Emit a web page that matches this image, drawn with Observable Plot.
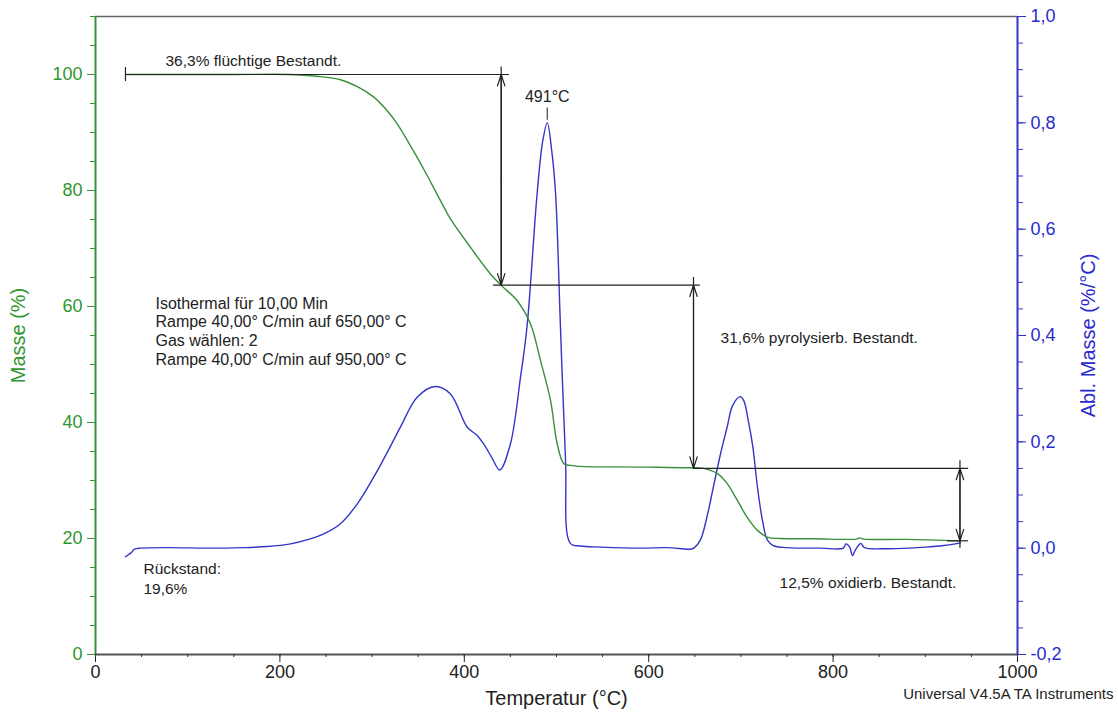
<!DOCTYPE html>
<html>
<head>
<meta charset="utf-8">
<script src="https://cdn.jsdelivr.net/npm/d3@7"></script>
<script src="https://cdn.jsdelivr.net/npm/@observablehq/plot@0.6"></script>
<style>
  html, body { margin: 0; padding: 0; background: #fff; }
  #chart svg { display: block; }
</style>
</head>
<body>
<div id="chart"></div>
<script>
// Mass (TGA) curve: temperature (°C) and mass (%)
const massT = [32.5, 100, 150, 211.5, 240, 265.7, 284, 301.9, 315, 327.2, 348.9, 358, 367, 376, 385, 406.7, 428.4, 440.3, 457.4, 471.8, 482.6, 493.5, 500.8, 508, 515.2, 530, 560, 600, 645, 659, 674.6, 685, 696, 707, 718, 729, 743, 780, 825, 829, 833, 880, 938];
const massL = [100, 100, 100, 100, 99.7, 99.1, 97.9, 96.1, 94.0, 91.5, 85.7, 83.1, 80.4, 77.7, 75.1, 70.2, 65.6, 63.6, 61, 57, 50.7, 43.8, 36.3, 32.9, 32.6, 32.4, 32.35, 32.3, 32.2, 32.1, 31.2, 29.5, 26.6, 23.6, 21.4, 20.2, 20.0, 19.95, 19.9, 20.1, 19.9, 19.85, 19.6];

// Derivative (DTG) curve: temperature (°C) and %/°C
const dtgT = [32.5, 36, 39, 42.3, 48.8, 80, 120, 160, 186, 211.5, 230, 247.6, 265.7, 283.8, 301.9, 320, 330.8, 348.9, 368.8, 385, 403, 414, 421, 430, 438.5, 450, 461, 468, 479, 485, 490, 495, 499, 504.3, 509.8, 515, 526, 548, 591, 620, 645, 649, 656, 664, 670, 678, 685, 691, 699, 703, 708, 713, 718, 723.4, 728.8, 735, 750, 787, 811, 814, 818, 821, 824, 827, 830, 834, 860, 900, 920, 938];
const dtgV = [-0.016, -0.012, -0.008, -0.002, 0, 0.001, 0, 0.001, 0.003, 0.008, 0.016, 0.027, 0.046, 0.083, 0.134, 0.192, 0.228, 0.284, 0.304, 0.290, 0.228, 0.212, 0.196, 0.170, 0.147, 0.196, 0.322, 0.416, 0.667, 0.765, 0.80, 0.745, 0.667, 0.416, 0.165, 0.009, 0.004, 0.002, 0.0, 0.001, -0.002, 0, 0.015, 0.065, 0.114, 0.178, 0.227, 0.268, 0.285, 0.278, 0.240, 0.19, 0.114, 0.052, 0.015, 0.005, 0.001, 0.0, 0.0, 0.008, 0.002, -0.014, -0.004, 0.004, 0.009, 0.001, -0.001, 0.002, 0.005, 0.010];

// Axis ticks
const xMajor = [0, 200, 400, 600, 800, 1000];
const xMinor = d3.range(0, 1001, 50);
const leftMajor = [0, 20, 40, 60, 80, 100];
const leftMinor = d3.range(0, 111, 5);
const rightMajor = [-0.2, 0, 0.2, 0.4, 0.6, 0.8, 1.0];
const rightMinor = d3.range(-0.2, 1.0001, 0.05);

// Step analysis annotations
const stepLevels = [100, 63.7, 32.1, 19.6];
const stepTemps = [440, 648.6, 937.6];
const hLineX1 = [32.5, 431.6, 648.6, 924];
const hLineX2 = [449, 656, 947, 947];
const stepLabels = ["36,3% flüchtige Bestandt.", "31,6% pyrolysierb. Bestandt.", "12,5% oxidierb. Bestandt."];
const stepLabelX = [75.9, 678, 742];
const stepLabelY = [102.4, 54.5, 12.4];
const methodText = "Isothermal für 10,00 Min\nRampe 40,00° C/min auf 650,00° C\nGas wählen: 2\nRampe 40,00° C/min auf 950,00° C";
const residueText = "Rückstand:\n19,6%";
const peakLabel = "491°C";

// Right axis (-0.2 .. 1.0) shares the left axis range (0 .. 110)
const yMax = 110, rMin = -0.2, rMax = 1.0;
const toL = v => (v - rMin) / (rMax - rMin) * yMax;
const fromL = L => Math.round((L / yMax * (rMax - rMin) + rMin) * 10) / 10;

const green = "#3a8f3a", greenText = "#2f962f";
const blue = "#3434c8", blueText = "#2a2ad0";
const ink = "#222";

const mass = massT.map((t, i) => ({t, m: massL[i]}));
const dtg = dtgT.map((t, i) => ({t, m: toL(dtgV[i])}));

const hLines = stepLevels.map((y, i) => ({y, x1: hLineX1[i], x2: hLineX2[i]}));
const dims = stepTemps.map((x, i) => ({x, top: stepLevels[i], bottom: stepLevels[i + 1]}));
const arrows = dims.flatMap(d => {
  const mid = (d.top + d.bottom) / 2;
  return [{x: d.x, y1: mid, y2: d.top}, {x: d.x, y1: mid, y2: d.bottom}];
});
const ext = 1.3;
const dimRules = dims.map((d, i) => ({x: d.x, y1: i === 2 ? d.bottom - ext : d.bottom, y2: d.top + ext}));
const labels = stepLabels.map((t, i) => ({t, x: stepLabelX[i], y: stepLabelY[i]}));

const iPeak = d3.maxIndex(dtgV);
const peakT = dtgT[iPeak];

const chart = Plot.plot({
  width: 1118,
  height: 713,
  marginLeft: 95,
  marginRight: 101,
  marginTop: 16,
  marginBottom: 59,
  x: {domain: [0, 1000]},
  y: {domain: [0, yMax]},
  style: {fontFamily: "'Liberation Sans', Arial, sans-serif", background: "#fff"},
  marks: [
    // curves
    Plot.line(dtg, {x: "t", y: "m", stroke: blue, strokeWidth: 1.4, curve: "catmull-rom"}),
    Plot.line(mass, {x: "t", y: "m", stroke: green, strokeWidth: 1.4, curve: "catmull-rom"}),

    // step analysis lines
    Plot.ruleY(hLines, {y: "y", x1: "x1", x2: "x2", stroke: ink, strokeWidth: 1.2}),
    Plot.ruleX(dimRules, {x: "x", y1: "y1", y2: "y2", stroke: ink, strokeWidth: 1.2}),
    Plot.arrow(arrows, {x1: "x", x2: "x", y1: "y1", y2: "y2", stroke: ink, strokeWidth: 1.2, headLength: 15, headAngle: 36}),
    Plot.ruleX([hLineX1[0]], {y1: stepLevels[0] - 1.2, y2: stepLevels[0] + 1.2, stroke: ink, strokeWidth: 1.2}),
    Plot.ruleX([peakT], {y1: toL(dtgV[iPeak] + 0.005), y2: toL(dtgV[iPeak] + 0.028), stroke: "#444", strokeWidth: 1.2}),

    // texts
    Plot.text(labels, {x: "x", y: "y", text: "t", textAnchor: "start", fontSize: 15.5, fill: ink}),
    Plot.text([peakLabel], {x: peakT, y: 96.2, text: d => d, textAnchor: "middle", fontSize: 16, fill: ink}),
    Plot.text([methodText], {x: 65, y: 61.9, text: d => d, textAnchor: "start", lineAnchor: "top", lineHeight: 1.17, fontSize: 16, fill: ink}),
    Plot.text([residueText], {x: 52, y: 16.4, text: d => d, textAnchor: "start", lineAnchor: "top", lineHeight: 1.29, fontSize: 15.5, fill: ink}),

    // frame
    Plot.ruleY([yMax], {stroke: "#666", strokeWidth: 1.5}),
    Plot.ruleY([0], {stroke: "#555", strokeWidth: 2}),
    Plot.ruleX([0], {stroke: green, strokeWidth: 2}),
    Plot.ruleX([1000], {stroke: blue, strokeWidth: 2}),

    // axes
    Plot.axisX(xMajor, {anchor: "bottom", tickSize: 8, tickPadding: 3, fontSize: 18, color: ink, label: null, tickFormat: d => String(d)}),
    Plot.axisX(xMinor, {anchor: "bottom", tickSize: 3, tickFormat: () => "", color: "#333", label: null}),
    Plot.axisY(leftMajor, {anchor: "left", tickSize: 8, tickPadding: 5, fontSize: 18, color: greenText, label: null, tickFormat: d => String(d)}),
    Plot.axisY(leftMinor, {anchor: "left", tickSize: 5, tickFormat: () => "", color: green, label: null}),
    Plot.axisY(rightMajor.map(toL), {anchor: "right", tickSize: 8, tickPadding: 5, fontSize: 18, color: blueText, label: null,
      tickFormat: L => fromL(L).toFixed(1).replace(".", ",")}),
    Plot.axisY(rightMinor.map(toL), {anchor: "right", tickSize: 5, tickFormat: () => "", color: blue, label: null}),

    // axis titles
    Plot.text(["Masse (%)"], {frameAnchor: "left", dx: -77, rotate: -90, textAnchor: "middle", text: d => d, fontSize: 20, fill: greenText}),
    Plot.text(["Abl. Masse (%/°C)"], {frameAnchor: "right", dx: 71, rotate: -90, textAnchor: "middle", text: d => d, fontSize: 20, fill: blueText}),
    Plot.text(["Temperatur (°C)"], {frameAnchor: "bottom", dy: 50, text: d => d, fontSize: 20, fill: ink}),
    Plot.text(["Universal V4.5A TA Instruments"], {frameAnchor: "bottom-right", dx: 96, dy: 44, textAnchor: "end", text: d => d, fontSize: 15, fill: ink})
  ]
});

document.getElementById("chart").append(chart);
</script>
</body>
</html>
